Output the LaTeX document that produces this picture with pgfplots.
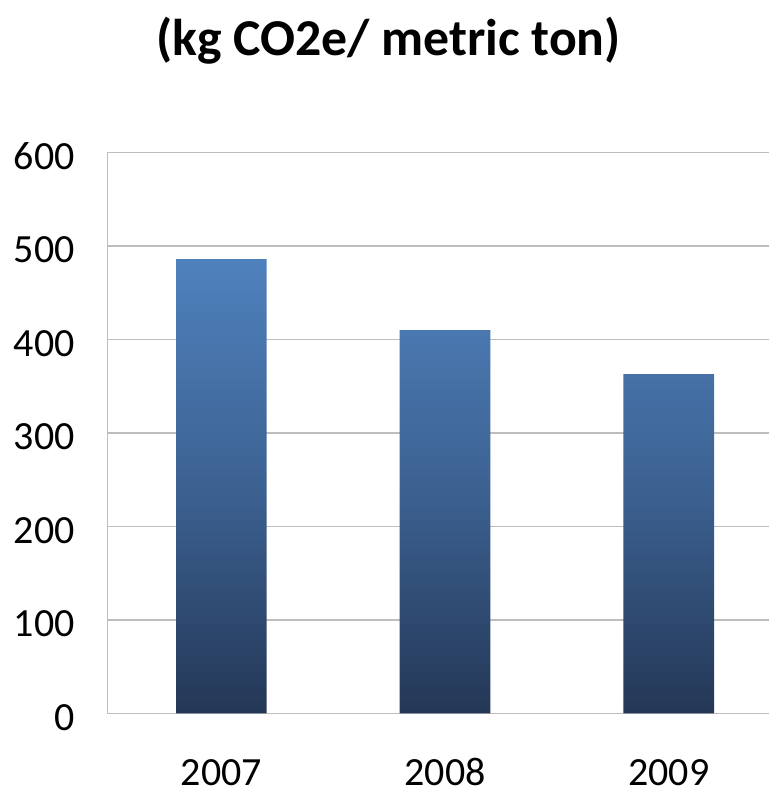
\documentclass[border=0pt]{standalone}
\usepackage{pgfplots}
\pgfplotsset{compat=1.18}
\usepackage{fontspec}
\setmainfont{Carlito}

\definecolor{bartop}{RGB}{79,129,189}
\definecolor{barmid}{RGB}{60,98,146}
\definecolor{barbot}{RGB}{36,55,86}
\definecolor{gridgray}{RGB}{190,190,190}

\begin{document}
\begin{tikzpicture}
% fixed canvas: 769 x 790 px at 0.75 pt per px
\useasboundingbox (0,0) rectangle (576.75pt,592.5pt);
\node[anchor=base, font=\fontsize{38.8}{44}\selectfont\bfseries, inner sep=0pt]
  at (291.4pt,551pt) {(kg CO2e/ metric ton)};
\begin{axis}[
  at={(80.6pt,57.4pt)}, anchor=south west,
  scale only axis,
  width=496.1pt, height=420.75pt,
  xmin=-0.509, xmax=2.448,
  ymin=0, ymax=600,
  ytick={0,100,...,600},
  xtick={0,1,2},
  xticklabels={2007,2008,2009},
  axis x line*=bottom, axis y line*=left,
  axis line style={draw=gridgray, line width=1.3pt, -},
  major tick length=0pt,
  ymajorgrids,
  grid style={draw=gridgray, line width=1.3pt},
  /pgf/number format/assume math mode=true,
  tick label style={font=\fontsize{30}{36}\selectfont, inner sep=0pt},
  xticklabel style={anchor=base, yshift=-54.3pt},
  yticklabel style={anchor=east, xshift=-24.4pt, yshift=-3pt},
  ybar, bar width=0.405,
]
\addplot[draw=none, top color=bartop, bottom color=barbot, middle color=barmid]
  coordinates {(0,486) (1,410) (2,363)};
\end{axis}
\end{tikzpicture}
\end{document}
